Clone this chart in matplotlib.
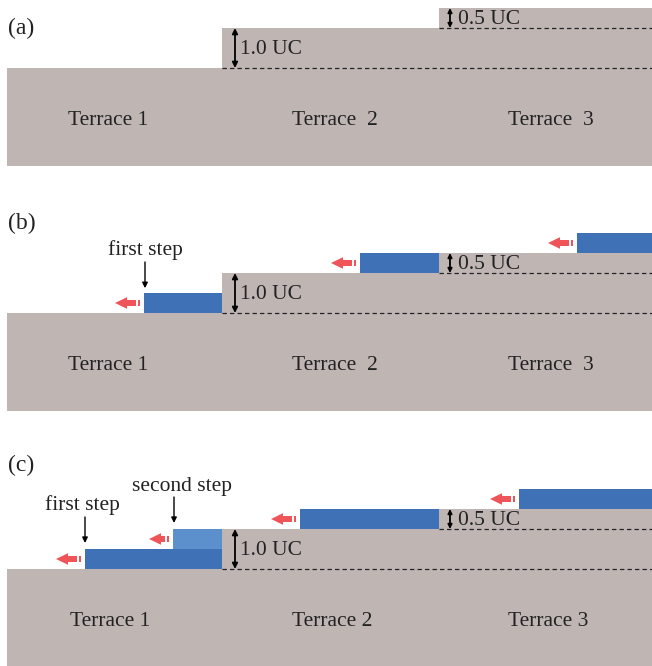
import matplotlib
matplotlib.use("Agg")
import matplotlib.pyplot as plt
from matplotlib.patches import Polygon, Rectangle

plt.rcParams['font.family'] = ['Liberation Serif', 'DejaVu Serif']

# terrace geometry: x edges (arbitrary lateral units) and top heights in UC
terrace_edges = [7, 222, 439, 652]
terrace_tops = [0.0, 1.0, 1.5]
terrace_floor = -2.45
step_heights = ["1.0 UC", "0.5 UC"]

panel_tags = ["(a)", "(b)", "(c)"]
terrace_names = [
    ["Terrace 1", "Terrace  2", "Terrace  3"],
    ["Terrace 1", "Terrace  2", "Terrace  3"],
    ["Terrace 1", "Terrace 2", "Terrace 3"],
]
terrace_label_x = [[68, 292, 508], [68, 292, 508], [70, 292, 508]]
tag_y = [1.0, 2.25, 2.6]

# growing islands per panel: (x_left, x_right, y_bottom, y_top, shade)
islands = [
    [],
    [(144, 222, 0.0, 0.5, 'dark'),
     (360, 439, 1.0, 1.5, 'dark'),
     (577, 652, 1.5, 2.0, 'dark')],
    [(85, 222, 0.0, 0.5, 'dark'),
     (173, 222, 0.5, 1.0, 'light'),
     (300, 439, 1.0, 1.5, 'dark'),
     (519, 652, 1.5, 2.0, 'dark')],
]
# step annotations per panel: (text, text_x, text_y, arrow_x, arrow_top, arrow_tip)
step_notes = [
    [],
    [("first step", 145, 1.575, 145, 1.275, 0.62)],
    [("first step", 82, 1.6, 85, 1.3, 0.65),
     ("second step", 182, 2.075, 174, 1.8, 1.15)],
]

gray = '#bfb6b4'
blue = {'dark': '#3e71b6', 'light': '#5b90cc'}
red = '#ef5459'
UC_PX = 40.0  # pixels per unit cell on the page

fig = plt.figure(figsize=(6.52, 6.66), dpi=100)
H = 666.0
panel_base_rows = [68, 313, 569]


def red_arrow(ax, x_end, yc, length=26):
    # pointing left, tip at x_end - length
    tip = x_end - length
    hl, hh, bh = 12, 5.8 / UC_PX, 3.0 / UC_PX
    bar_end = tip + hl + (length - 17)
    head = Polygon([(tip, yc), (tip + hl, yc + hh), (tip + hl, yc + bh),
                    (bar_end, yc + bh), (bar_end, yc - bh),
                    (tip + hl, yc - bh), (tip + hl, yc - hh)],
                   closed=True, fc=red, ec='none', clip_on=False)
    ax.add_patch(head)
    ax.add_patch(Rectangle((bar_end + 1.5, yc - bh), 2.8, 2 * bh,
                           fc=red, ec='none', clip_on=False))


for p in range(3):
    base = panel_base_rows[p]
    ax = fig.add_axes([0, 1 - (base + 100) / H, 1, 168 / H])
    ax.set_xlim(0, 652)
    ax.set_ylim(-2.5, 1.7)
    ax.axis('off')

    # terrace profile
    pts = [(terrace_edges[0], terrace_floor)]
    for i, top in enumerate(terrace_tops):
        pts.append((terrace_edges[i], top))
        pts.append((terrace_edges[i + 1], top))
    pts.append((terrace_edges[-1], terrace_floor))
    ax.add_patch(Polygon(pts, closed=True, fc=gray, ec='none'))

    # dashed reference levels
    ax.plot([terrace_edges[1], terrace_edges[3]], [terrace_tops[0]] * 2,
            ls=(0, (3.5, 2.5)), color='#222222', lw=0.9, clip_on=False)
    ax.plot([terrace_edges[2], terrace_edges[3]], [terrace_tops[1]] * 2,
            ls=(0, (3.5, 2.5)), color='#222222', lw=0.9, clip_on=False)

    # step height markers
    for k in range(2):
        x0 = terrace_edges[k + 1] + (13 if k == 0 else 11)
        y0, y1 = terrace_tops[k], terrace_tops[k + 1]
        ax.annotate('', xy=(x0, y1), xytext=(x0, y0),
                    arrowprops=dict(arrowstyle='<|-|>', color='black', lw=1.3,
                                    mutation_scale=8 if k == 0 else 6,
                                    shrinkA=0, shrinkB=0))
        ax.text(x0 + (5 if k == 0 else 8), (y0 + y1) / 2 - 0.03,
                step_heights[k], fontsize=15.5,
                ha='left', va='center', color='#222222')

    for i, name in enumerate(terrace_names[p]):
        ax.text(terrace_label_x[p][i], -1.32, name, fontsize=15.5,
                ha='left', va='center', color='#222222')

    ax.text(8, tag_y[p], panel_tags[p], fontsize=17, ha='left', va='center',
            color='#222222', clip_on=False)

    for (xl, xr, yb, yt, shade) in islands[p]:
        ax.add_patch(Rectangle((xl, yb), xr - xl, yt - yb,
                               fc=blue[shade], ec='none', clip_on=False))
        length = 21 if shade == 'light' else 26
        red_arrow(ax, xl - 3, (yb + yt) / 2, length)

    for (txt, tx, ty, x, a0, a1) in step_notes[p]:
        ax.text(tx, ty, txt, fontsize=15.5, ha='center', va='center',
                color='#222222', clip_on=False)
        ax.annotate('', xy=(x, a1), xytext=(x, a0),
                    arrowprops=dict(arrowstyle='-|>', color='black', lw=1.0,
                                    mutation_scale=8, shrinkA=0, shrinkB=0),
                    annotation_clip=False)

fig.savefig('out.png', dpi=100)
